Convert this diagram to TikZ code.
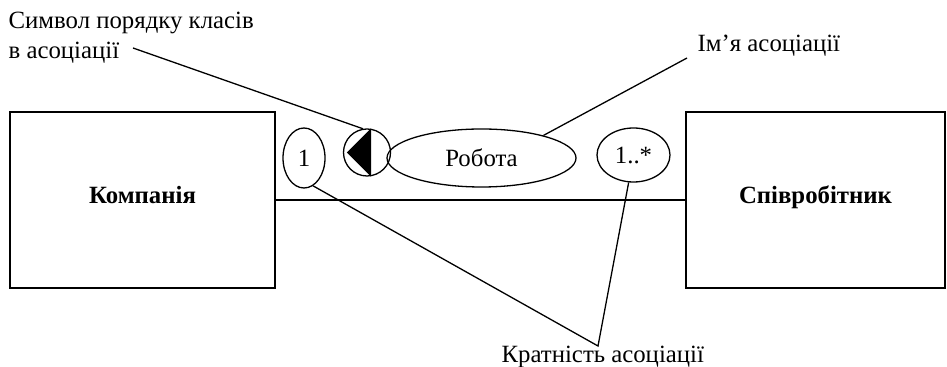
\documentclass[tikz,border=0pt]{standalone}
\usepackage{fontspec}
\setmainfont{Liberation Serif}
\usetikzlibrary{shapes.geometric}
\begin{document}
\begin{tikzpicture}[x=0.5pt,y=-0.5pt,line width=0.65pt,
  font=\fontsize{12.4}{15}\selectfont,
  cls/.style={draw,rectangle,inner sep=0pt,minimum height=88pt,text height=6pt,text depth=2.5pt,font=\fontsize{12.4}{15}\selectfont\bfseries},
  oval/.style={draw,ellipse,inner sep=0pt},
  lbl/.style={inner sep=0pt,align=left}]%
\useasboundingbox (0,0) rectangle (947,367);
% classes
\node[cls,minimum width=132.5pt] (comp) at (142.5,200) {Компанія};
\node[cls,minimum width=129.5pt] (empl) at (815.5,200) {Співробітник};
\draw (comp.east) -- (empl.west);
% association adornments
\node[oval,minimum width=21pt,minimum height=30pt] (one) at (304,158) {1};
\node[draw,circle,inner sep=0pt,minimum size=23.5pt] (ord) at (367,152.5) {};
\fill (ord.west) ++(4,0) coordinate (tipl) -- ([xshift=2pt]ord.north) -- ([xshift=2pt]ord.south) -- cycle;
\node[oval,minimum width=94.5pt,minimum height=29pt] (rob) at (481.5,158) {Робота};
\node[oval,minimum width=36.5pt,minimum height=27pt] (many) at (633.5,155) {1..*};
% notes
\node[lbl,anchor=north west] (ordtxt) at (8,11) {Символ порядку класів\\в асоціації};
\node[lbl,anchor=base west] (nametxt) at (697,52) {Ім’я асоціації};
\node[lbl,anchor=base west] (multtxt) at (501,363) {Кратність асоціації};
\coordinate (ordend) at (133,48);
\coordinate (nameend) at (687,58);
\coordinate (multend) at (598,346);
\draw (ordend) -- (ord.100);
\draw (nameend) -- (rob.20);
\draw (one.-72) -- (multend) -- (many.-100);
\end{tikzpicture}
\end{document}
